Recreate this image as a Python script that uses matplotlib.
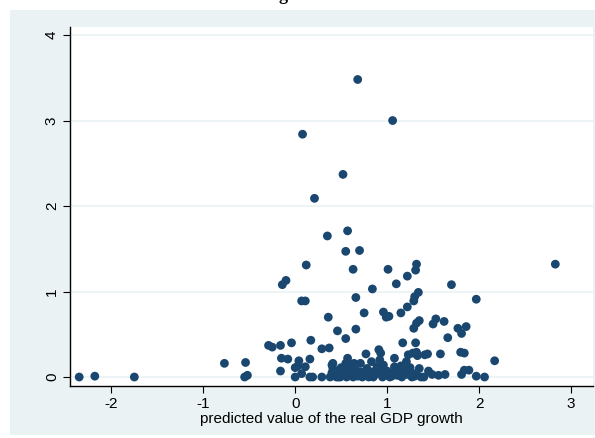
import matplotlib
matplotlib.use("Agg")
import matplotlib.pyplot as plt
from matplotlib.patches import Rectangle

# predicted value of the real GDP growth (x) vs. outcome (y)
x_vals = [
    # upper part
    0.68, 0.08, 1.06, 0.52, 0.21, 0.35, 0.57, 0.55, 0.70, 0.12,
    0.63, 1.01, 1.32, 1.31, 1.22, 2.83,
    -0.14, -0.10, 0.84, 1.10, 1.70,
    0.07, 0.11, 0.66, 1.34, 1.30, 1.29, 1.97, 1.22,
    0.75, 0.96, 0.99, 1.02, 1.15, 0.36,
    1.35, 1.32, 1.29, 1.53, 1.50, 1.62,
    1.77, 1.86, 1.81, 0.66, 0.46, 0.55, 1.66,
    -0.29, -0.25, -0.16, -0.04, 0.17, 0.29, 0.37,
    1.17, 1.31, 0.91, 0.93, 0.77,
    1.23, 1.28, 1.32, 1.33, 1.41, 1.44, 1.58, 1.80, 1.84, 2.17,
    -0.77, -0.54, -0.15, -0.08, 0.04, 0.16, -0.16, 0.00, 0.03, 0.11,
    -0.55, -0.52, -2.35, -2.18, -1.75,
    # bottom band
    0.00, 0.07, 0.16, 0.19, 0.29,
    0.38, 0.40, 0.41, 0.41, 0.40, 0.45, 0.46, 0.49,
    0.57, 0.55, 0.58, 0.59, 0.56, 0.64, 0.66, 0.63,
    0.71, 0.71, 0.73, 0.83, 0.84, 0.85,
    0.89, 0.92, 0.94, 0.95, 0.98, 1.03, 1.07, 1.08, 1.08, 1.12, 1.16,
    1.19, 1.21, 1.25, 1.27, 1.31, 1.35, 1.37,
    1.40, 1.45, 1.49, 1.56, 1.63,
    1.81, 1.84, 1.89, 1.97, 2.06,
    0.43, 0.47, 0.51, 0.53, 0.61, 0.68, 0.76, 0.78, 0.80, 0.87,
    1.00, 1.05, 1.09, 1.14, 1.18, 1.22, 1.24, 1.30, 0.96, 0.61,
    0.69, 0.81, 0.88, 1.11, 1.15, 0.50, 0.65, 1.01,
]
y_vals = [
    3.48, 2.84, 3.00, 2.37, 2.09, 1.65, 1.71, 1.47, 1.48, 1.31,
    1.26, 1.26, 1.32, 1.25, 1.18, 1.32,
    1.08, 1.13, 1.03, 1.09, 1.08,
    0.89, 0.89, 0.93, 0.99, 0.94, 0.89, 0.91, 0.82,
    0.75, 0.76, 0.70, 0.71, 0.75, 0.70,
    0.66, 0.63, 0.57, 0.68, 0.62, 0.65,
    0.57, 0.59, 0.51, 0.56, 0.54, 0.45, 0.46,
    0.37, 0.35, 0.37, 0.40, 0.43, 0.33, 0.34,
    0.40, 0.40, 0.32, 0.28, 0.27,
    0.26, 0.28, 0.29, 0.25, 0.26, 0.27, 0.27, 0.29, 0.28, 0.19,
    0.16, 0.17, 0.22, 0.21, 0.19, 0.21, 0.07, 0.11, 0.13, 0.12,
    0.00, 0.02, 0.00, 0.01, 0.00,
    0.00, 0.04, 0.00, 0.00, 0.00,
    0.00, 0.05, 0.10, 0.16, 0.14, 0.00, 0.06, 0.00,
    0.22, 0.16, 0.12, 0.06, 0.00, 0.16, 0.08, 0.00,
    0.16, 0.06, 0.00, 0.18, 0.06, 0.00,
    0.12, 0.20, 0.08, 0.00, 0.04, 0.00, 0.04, 0.22, 0.12, 0.06, 0.00,
    0.08, 0.18, 0.11, 0.00, 0.04, 0.10, 0.00,
    0.00, 0.07, 0.03, 0.02, 0.03,
    0.03, 0.08, 0.08, 0.01, 0.00,
    0.02, 0.00, 0.03, 0.09, 0.03, 0.01, 0.02, 0.10, 0.00, 0.03,
    0.07, 0.01, 0.09, 0.02, 0.05, 0.03, 0.07, 0.01, 0.14, 0.09,
    0.03, 0.01, 0.05, 0.02, 0.13, 0.11, 0.04, 0.02,
]

x_ticks = [-2, -1, 0, 1, 2, 3]
y_ticks = [0, 1, 2, 3, 4]
x_label = "predicted value of the real GDP growth"

W, H = 595, 438
fig = plt.figure(figsize=(W / 100, H / 100), dpi=100, facecolor="white")

# Stata-like graph region, kept behind the axes
fig.patches.append(Rectangle((10 / W, 3 / H), 1 - 10 / W, (H - 13) / H,
                             transform=fig.transFigure, facecolor="#eaf2f3",
                             edgecolor="none", zorder=-10))

# cut-off title, only a descender shows
fig.text(283 / W, 1.0, "g", ha="center", va="baseline",
         family="Liberation Serif", fontweight="bold", fontsize=13)

ax = fig.add_axes([70 / W, 52 / H, 523 / W, 359 / H])
ax.set_facecolor("white")
ax.scatter(x_vals, y_vals, s=40, color="#1a476f", edgecolors="none", zorder=3)

ax.set_xlim(-2.45, 3.24)
ax.set_ylim(-0.105, 4.094)
ax.set_xticks(x_ticks)
ax.set_yticks(y_ticks)
ax.set_xticklabels([str(t) for t in x_ticks], family="Liberation Sans", fontsize=11)
ax.set_yticklabels([str(t) for t in y_ticks], family="Liberation Sans", fontsize=11,
                   rotation=90, va="center")
ax.set_xlabel(x_label, family="Liberation Sans", fontsize=11, labelpad=1)

ax.grid(axis="y", color="#eaf2f3", linewidth=1.2, zorder=1)
ax.tick_params(direction="out", length=5, width=0.8, color="black", pad=3)
for side in ["top", "right"]:
    ax.spines[side].set_visible(False)
for side in ["left", "bottom"]:
    ax.spines[side].set_color("black")
    ax.spines[side].set_linewidth(1.0)

fig.savefig("out.png", dpi=100, facecolor="white")
